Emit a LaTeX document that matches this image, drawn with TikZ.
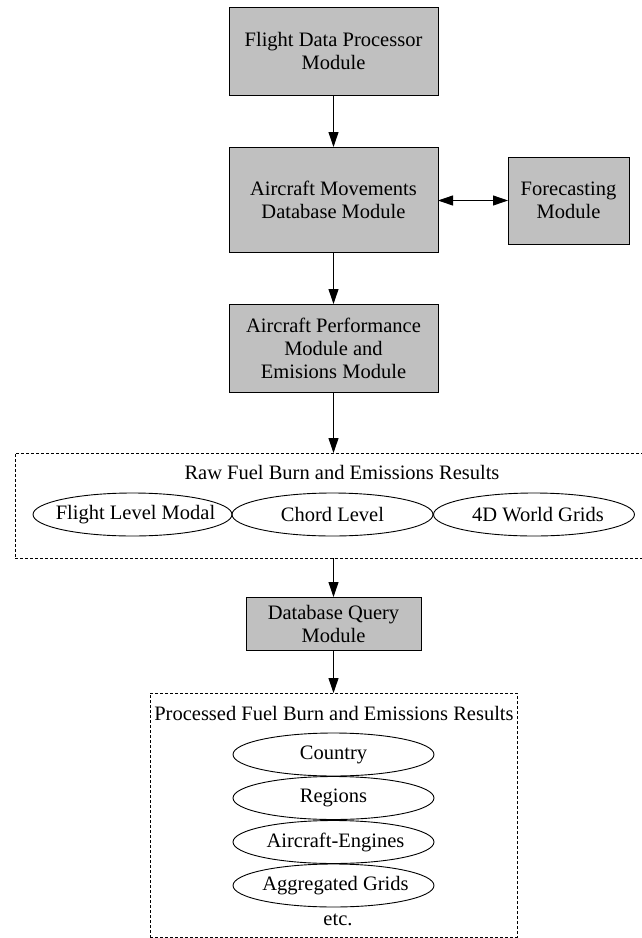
\documentclass[tikz,border=0pt]{standalone}
\usepackage{fontspec}
\setmainfont{Liberation Serif}
\usetikzlibrary{arrows.meta,shapes.geometric}
\definecolor{boxgrey}{HTML}{C0C0C0}
\newcommand{\ovaltext}[1]{\makebox[0pt]{#1}}
\begin{document}
\begin{tikzpicture}[x=1pt,y=-1pt,
  every node/.style={font=\fontsize{20.5}{23}\selectfont, inner sep=0pt, outer sep=0pt},
  module/.style={draw, line width=1pt, fill=boxgrey, align=center},
  group/.style={draw, dashed, dash pattern=on 3pt off 2pt, line width=0.8pt},
  oval/.style={draw, ellipse, line width=0.9pt, minimum height=43pt},
  conn/.style={line width=0.9pt, -{Triangle[length=15pt,width=10pt]}},
  biconn/.style={line width=0.9pt, {Triangle[length=15pt,width=10pt]}-{Triangle[length=15pt,width=10pt]}}]
\useasboundingbox (0,0) rectangle (641,938);
\fill[white] (0,0) rectangle (641,938);

\node[module, minimum width=209pt, minimum height=88pt] (fdp) at (333.5,51) {Flight Data Processor\\Module};
\node[module, minimum width=209pt, minimum height=105pt] (amd) at (333.5,199.5) {Aircraft Movements\\Database Module};
\node[module, minimum width=121pt, minimum height=87pt] (fc) at (568.5,200.5) {Forecasting\\Module};
\node[module, minimum width=209pt, minimum height=88pt] (apm) at (333.5,348) {Aircraft Performance\\Module and\\Emisions Module};

\node[group, minimum width=632pt, minimum height=105pt] (raw) at (331,505.5) {};
\node (rawtitle) at (342,472) {Raw Fuel Burn and Emissions Results};
\node[oval, minimum width=199pt] (flm) at (132.5,514.5) {\ovaltext{\hspace{6pt}Flight Level Modal}};
\node[oval, minimum width=201pt] (chord) at (332.5,514.5) {\ovaltext{Chord Level}};
\node[oval, minimum width=201pt] (grid4d) at (534,514.5) {\ovaltext{\hspace{8pt}4D World Grids}};

\node[module, minimum width=175pt, minimum height=53pt] (dbq) at (333.5,623.5) {Database Query\\Module};

\node[group, minimum width=367pt, minimum height=244pt] (proc) at (333.5,815) {};
\node (proctitle) at (334,713) {Processed Fuel Burn and Emissions Results};
\node[oval, minimum width=201pt] (country) at (333.5,754.5) {\ovaltext{Country}};
\node[oval, minimum width=201pt] (regions) at (333.5,798) {\ovaltext{Regions}};
\node[oval, minimum width=201pt] (engines) at (333.5,842) {\ovaltext{\hspace{4pt}Aircraft-Engines}};
\node[oval, minimum width=201pt] (aggr) at (333.5,885.5) {\ovaltext{\hspace{4pt}Aggregated Grids}};
\node (etc) at (338,920) {etc.};

\draw[conn] (fdp.south) -- (amd.north);
\draw[biconn] (amd.east |- fc.west) -- (fc.west);
\draw[conn] (amd.south) -- (apm.north);
\draw[conn] (apm.south) -- (apm.south |- raw.north);
\draw[conn] (dbq.north |- raw.south) -- (dbq.north);
\draw[conn] (dbq.south) -- (dbq.south |- proc.north);
\end{tikzpicture}
\end{document}
